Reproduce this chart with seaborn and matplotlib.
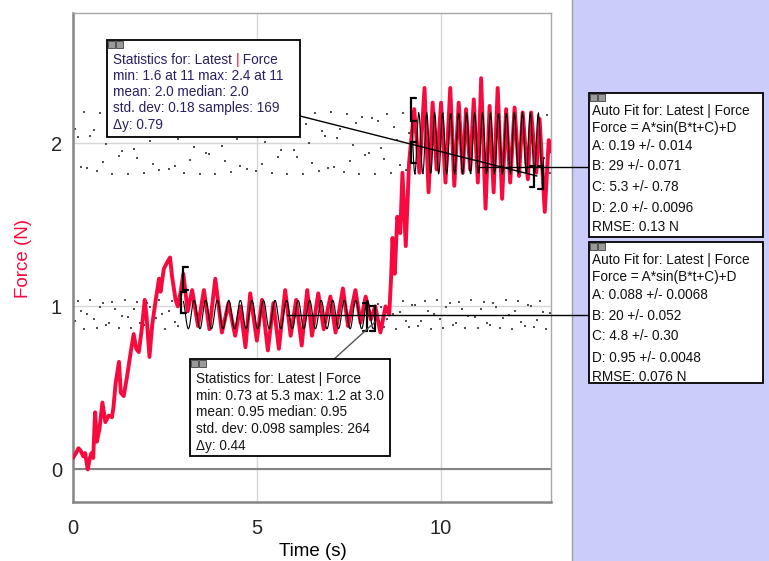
import numpy as np
import pandas as pd
import matplotlib
matplotlib.use("Agg")
import matplotlib.pyplot as plt
from matplotlib.patches import Rectangle
from matplotlib.lines import Line2D
import seaborn as sns

# force sensor trace (time in s, force in N)
time_s = [0.0, 0.08, 0.15, 0.22, 0.28, 0.33, 0.40, 0.45, 0.50, 0.55, 0.60, 0.65, 0.72,
          0.80, 0.88, 0.97, 1.06, 1.10, 1.16, 1.25, 1.30, 1.38, 1.47, 1.57, 1.65, 1.72,
          1.79, 1.87, 1.95, 2.00, 2.08, 2.15, 2.25, 2.34, 2.38, 2.47, 2.56, 2.64, 2.69,
          2.79, 2.85, 2.93, 3.00, 3.12, 3.24, 3.40, 3.56, 3.71, 3.87, 4.05, 4.23, 4.41,
          4.55, 4.69, 4.82, 5.00, 5.14, 5.30, 5.45, 5.60, 5.77, 5.92, 6.07, 6.22, 6.37,
          6.50, 6.67, 6.82, 7.00, 7.14, 7.34, 7.48, 7.68, 7.82, 7.96, 8.10, 8.22, 8.36,
          8.50, 8.60, 8.65, 8.69, 8.75, 8.82, 8.90, 8.96, 9.05, 9.14, 9.28, 9.42, 9.56,
          9.67, 9.78, 9.89, 10.01, 10.13, 10.26, 10.37, 10.49, 10.60, 10.69, 10.80, 10.90,
          11.01, 11.10, 11.22, 11.33, 11.44, 11.55, 11.67, 11.78, 11.89, 12.01, 12.13,
          12.23, 12.37, 12.46, 12.60, 12.69, 12.83, 12.94, 13.0]
force_n = [0.07, 0.10, 0.13, 0.11, 0.08, 0.10, 0.00, 0.06, 0.10, 0.07, 0.35, 0.17, 0.25,
           0.41, 0.29, 0.33, 0.32, 0.38, 0.53, 0.66, 0.47, 0.45, 0.57, 0.72, 0.83, 0.74,
           0.72, 0.86, 1.04, 0.94, 0.69, 0.88, 1.04, 1.17, 1.09, 1.23, 1.27, 1.30, 1.19,
           1.04, 1.00, 1.09, 1.20, 0.97, 1.10, 0.88, 1.10, 0.86, 1.17, 0.84, 1.02, 0.82,
           1.00, 0.75, 1.08, 0.79, 1.04, 0.73, 1.02, 0.74, 1.10, 0.82, 1.04, 0.76, 1.10,
           0.82, 1.08, 0.86, 1.06, 0.84, 1.11, 0.88, 1.10, 0.90, 1.06, 0.92, 1.00, 0.84,
           1.00, 0.95, 1.17, 1.42, 1.20, 1.55, 1.45, 1.82, 1.37, 1.88, 2.21, 1.82, 2.34,
           1.70, 2.25, 1.84, 2.25, 1.76, 2.34, 1.74, 2.25, 1.82, 2.21, 1.84, 2.27,
           1.76, 2.40, 1.60, 2.23, 1.70, 2.34, 1.66, 2.21, 1.76, 2.22, 1.80,
           2.19, 1.78, 2.19, 1.82, 2.15, 1.58, 2.02, 1.95]

# auto fit results A*sin(B*t+C)+D and the ranges they cover
fit_high_params = [0.19, 29, 5.3, 2.0]
fit_high_range = [9.2, 12.8]
fit_low_params = [0.088, 20, 4.8, 0.95]
fit_low_range = [3.0, 8.2]

stats_high_lines = ["Statistics for: Latest | Force", "min: 1.6 at 11 max: 2.4 at 11",
                    "mean: 2.0 median: 2.0", "std. dev: 0.18 samples: 169", "\u0394y: 0.79"]
stats_low_lines = ["Statistics for: Latest | Force", "min: 0.73 at 5.3 max: 1.2 at 3.0",
                   "mean: 0.95 median: 0.95", "std. dev: 0.098 samples: 264", "\u0394y: 0.44"]
fit_high_lines = ["Auto Fit for: Latest | Force", "Force = A*sin(B*t+C)+D", "A: 0.19 +/- 0.014",
                  "B: 29 +/- 0.071", "C: 5.3 +/- 0.78", "D: 2.0 +/- 0.0096", "RMSE: 0.13 N"]
fit_low_lines = ["Auto Fit for: Latest | Force", "Force = A*sin(B*t+C)+D", "A: 0.088 +/- 0.0068",
                 "B: 20 +/- 0.052", "C: 4.8 +/- 0.30", "D: 0.95 +/- 0.0048", "RMSE: 0.076 N"]

x_ticks = [0, 5, 10]
y_ticks = [0, 1, 2]

W, H = 769, 561
RED = "#f70a3d"
GRAY = "#858585"
BOX_FONT = 9.8


def fx(x):
    return x / W


def fy(y):
    return 1 - y / H


def sine_fit(t, params):
    a, b, c, d = params
    return a * np.sin(b * t + c) + d


sns.set_theme(style="white")
plt.rcParams["font.family"] = ["Liberation Sans", "DejaVu Sans"]

fig = plt.figure(figsize=(W / 100, H / 100), dpi=100)
fig.patch.set_facecolor("white")
ax = fig.add_axes([fx(73), fy(502), (551 - 73) / W, (502 - 13) / H])
ax.set_facecolor("white")

ax.set_xlim(0, 13)
ax.set_ylim(-0.2, 2.8)
ax.set_xticks(x_ticks)
ax.set_yticks(y_ticks)
ax.set_xticks(np.arange(0, 14, 1), minor=True)
ax.set_yticks(np.arange(-0.2, 2.81, 0.2), minor=True)
ax.set_xticklabels([str(v) for v in x_ticks], fontsize=14.5)
ax.set_yticklabels([str(v) for v in y_ticks], fontsize=14.5)
ax.tick_params(axis="y", which="major", direction="out", length=7, width=1.3, color=GRAY, pad=1)
ax.tick_params(axis="y", which="minor", direction="out", length=3.5, width=1.3, color=GRAY)
ax.tick_params(axis="x", which="major", direction="out", length=8, width=1.3, color=GRAY, pad=4)
ax.tick_params(axis="x", which="minor", direction="out", length=4.5, width=1.3, color=GRAY)
for side in ["left", "bottom"]:
    ax.spines[side].set_color(GRAY)
    ax.spines[side].set_linewidth(1.8)
for side in ["top", "right"]:
    ax.spines[side].set_color("#a8a8a8")
    ax.spines[side].set_linewidth(1.0)

ax.grid(True, which="major", color="#d6d6d6", linewidth=1.0)
ax.axhline(0, color=GRAY, linewidth=1.5, zorder=1)

# dotted extrapolation of both fits outside their ranges (sparse dots)
for params, (t0, t1) in [(fit_high_params, fit_high_range), (fit_low_params, fit_low_range)]:
    for a, b in [(0.05, t0), (t1, 13)]:
        tt = np.arange(a, b, 0.085)
        sns.scatterplot(x=tt, y=sine_fit(tt, params), ax=ax, color="#505050", s=1.0,
                        marker="s", linewidth=0, zorder=2)

df = pd.DataFrame({"Time": time_s, "Force": force_n})
sns.lineplot(data=df, x="Time", y="Force", ax=ax, color=RED, linewidth=2.8,
             sort=False, estimator=None, zorder=3)

for params, (t0, t1) in [(fit_high_params, fit_high_range), (fit_low_params, fit_low_range)]:
    tt = np.arange(t0, t1, 0.02)
    sns.lineplot(x=tt, y=sine_fit(tt, params), ax=ax, color="black", linewidth=0.8,
                 sort=False, estimator=None, zorder=4)


# region brackets
def bracket(t, y0, y1, opening):
    w = 0.12 * opening
    ax.plot([t + w, t, t, t + w], [y1, y1, y0, y0], color="black", linewidth=1.6,
            solid_joinstyle="miter", zorder=5)


bracket(9.2, 2.14, 2.28, 1)
bracket(9.2, 1.88, 2.01, 1)
bracket(12.55, 1.73, 1.86, -1)
bracket(12.77, 1.72, 1.86, -1)
bracket(3.0, 1.10, 1.24, 1)
bracket(2.95, 0.96, 1.09, 1)
bracket(8.0, 0.85, 1.02, -1)
bracket(8.2, 0.85, 1.00, -1)

ax.set_xlabel("")
ax.set_ylabel("")
fig.text(fx(313), fy(551), "Time (s)", ha="center", va="center", fontsize=13.5, color="black")
fig.text(fx(24), fy(258), "Force (N)", ha="center", va="center", fontsize=13.5,
         color=RED, rotation=90)

# right side panel
fig.add_artist(Rectangle((fx(572), 0), 1 - fx(572), 1, transform=fig.transFigure,
                         facecolor="#ccccfa", edgecolor="none", zorder=0))
fig.add_artist(Line2D([fx(572), fx(572)], [0, 1], transform=fig.transFigure,
                      color="#9a9aa8", linewidth=1.0, zorder=1))


# connector lines from boxes to the data
def fig_line(x0, y0, x1, y1, color="black"):
    fig.add_artist(Line2D([fx(x0), fx(x1)], [fy(y0), fy(y1)], transform=fig.transFigure,
                          color=color, linewidth=1.0, zorder=6))


fig_line(300, 116, 537, 176)
fig_line(478, 167, 589, 167)
fig_line(287, 315, 589, 315)
fig_line(333, 360, 375, 322, color="#555555")


def info_box(x0, y0, x1, y1, lines, ys, text_x, color, red_bar=False):
    fig.add_artist(Rectangle((fx(x0), fy(y1)), fx(x1) - fx(x0), fy(y0) - fy(y1),
                             transform=fig.transFigure, facecolor="white",
                             edgecolor="black", linewidth=1.3, zorder=7))
    for i in range(2):
        fig.add_artist(Rectangle((fx(x0 + 1 + 8 * i), fy(y0 + 8)), 7 / W, 7 / H,
                                 transform=fig.transFigure, facecolor="#9a9a9a",
                                 edgecolor="#404040", linewidth=0.6, zorder=8))
    renderer = fig.canvas.get_renderer()
    for line, y in zip(lines, ys):
        if red_bar and "|" in line:
            # title line with a red separator
            left, right = line.split("|")
            x = fx(text_x)
            for part, col in [(left, color), ("|", RED), (right, color)]:
                t = fig.text(x, fy(y), part, ha="left", va="center", fontsize=BOX_FONT,
                             color=col, zorder=9)
                x = t.get_window_extent(renderer=renderer).x1 / fig.bbox.width
        else:
            fig.text(fx(text_x), fy(y), line, ha="left", va="center", fontsize=BOX_FONT,
                     color=color, zorder=9)


info_box(107, 40, 300, 137, stats_high_lines, [60, 76, 92, 108, 125], 113, "#2a2060", red_bar=True)
info_box(190, 359, 390, 456, stats_low_lines, [379, 396, 412, 429, 446], 196, "#151515")
info_box(589, 93, 763, 237, fit_high_lines, [111, 128, 146, 166, 187, 208, 227], 592, "#111111")
info_box(589, 242, 763, 383, fit_low_lines, [260, 277, 295, 316, 336, 358, 377], 592, "#111111")

fig.savefig("out.png", dpi=100)
